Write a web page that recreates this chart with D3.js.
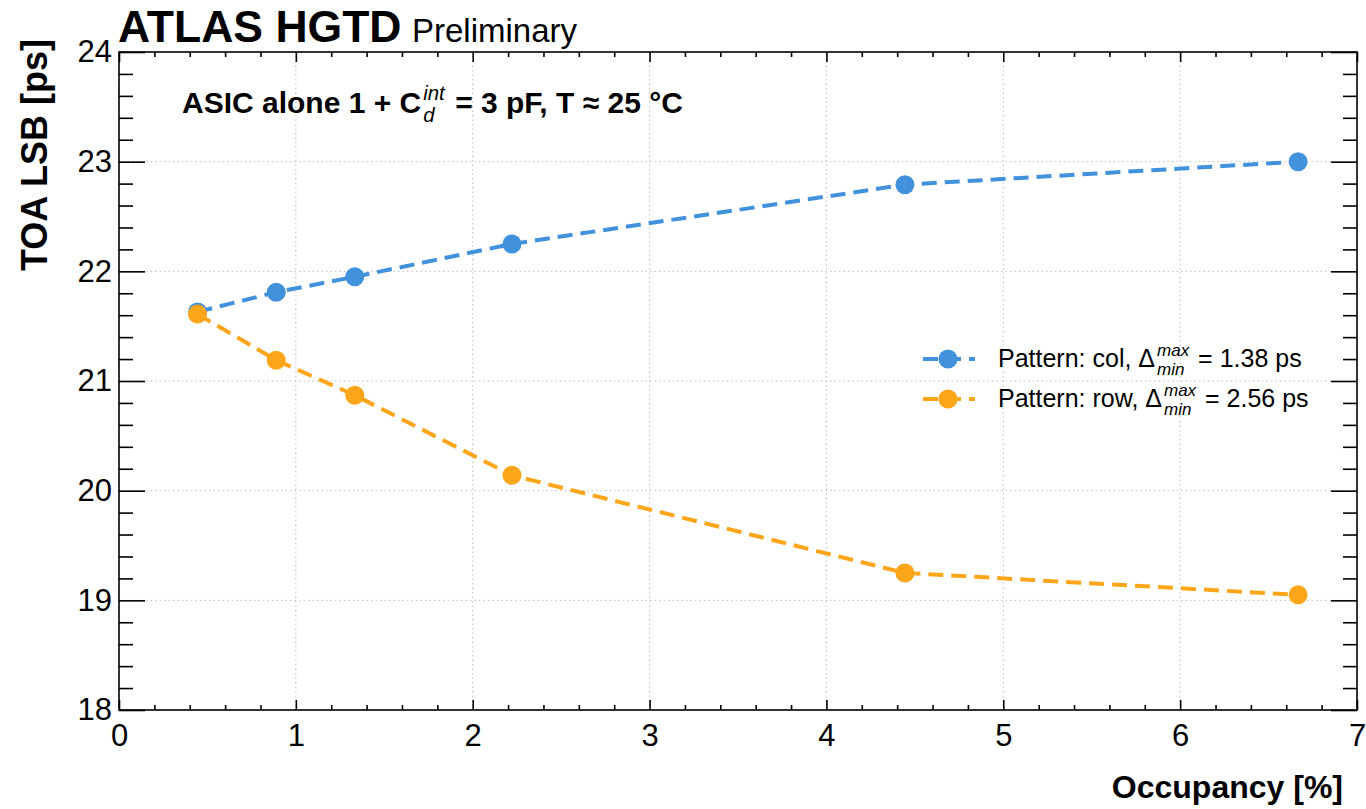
<!DOCTYPE html>
<html><head><meta charset="utf-8">
<script src="https://cdn.jsdelivr.net/npm/d3@7"></script>
<style>
body{margin:0;background:#fff}
svg{display:block}
text{font-family:"Liberation Sans",Arial,Helvetica,sans-serif;fill:#000}
</style>
</head><body>
<svg id="chart" width="1366" height="809"></svg>
<script>
// ---- data ----
const occupancy = [0.444, 0.889, 1.333, 2.222, 4.444, 6.667];
const lsbCol = [21.63, 21.81, 21.95, 22.25, 22.79, 23.00];
const lsbRow = [21.61, 21.19, 20.87, 20.14, 19.25, 19.05];
const seriesNames = ["col", "row"];
const seriesDeltas = ["1.38", "2.56"];
const seriesColors = ["#4191dc", "#ffa519"];
const xTickValues = [0, 1, 2, 3, 4, 5, 6, 7];
const yTickValues = [18, 19, 20, 21, 22, 23, 24];
const xDomain = [0, 7];
const yDomain = [18, 24];

// ---- layout ----
const L = 119, R = 1357, T = 52, B = 710;
const svg = d3.select("#chart");

const x = d3.scaleLinear().domain(xDomain).range([L, R]);
const y = d3.scaleLinear().domain(yDomain).range([B, T]);

const xMinor = d3.range(xDomain[0], xDomain[1] + 1e-9, 0.2).map(v => +v.toFixed(2)).filter(v => !xTickValues.includes(v));
const yMinor = d3.range(yDomain[0], yDomain[1] + 1e-9, 0.2).map(v => +v.toFixed(2)).filter(v => !yTickValues.includes(v));

// grid
const grid = svg.append("g").attr("stroke", "#bdbdbd").attr("stroke-width", 1).attr("stroke-dasharray", "1.5,3");
grid.selectAll("line.gx").data(xTickValues.slice(1, -1)).join("line")
  .attr("x1", d => x(d)).attr("x2", d => x(d)).attr("y1", T).attr("y2", B);
grid.selectAll("line.gy").data(yTickValues.slice(1, -1)).join("line")
  .attr("x1", L).attr("x2", R).attr("y1", d => y(d)).attr("y2", d => y(d));

// series
const series = [lsbCol, lsbRow].map((vals, i) => ({
  name: seriesNames[i], delta: seriesDeltas[i], color: seriesColors[i],
  pts: occupancy.map((o, j) => [o, vals[j]])
}));
const line = d3.line().x(d => x(d[0])).y(d => y(d[1]));
series.forEach(s => {
  svg.append("path").attr("d", line(s.pts)).attr("fill", "none")
    .attr("stroke", s.color).attr("stroke-width", 4).attr("stroke-dasharray", "15,8");
  svg.append("g").selectAll("circle").data(s.pts).join("circle")
    .attr("cx", d => x(d[0])).attr("cy", d => y(d[1])).attr("r", 9.5).attr("fill", s.color);
});

// axes (ticks inward)
function styleAxis(g) {
  g.select(".domain").remove();
  g.selectAll(".tick line").attr("stroke", "#000").attr("stroke-width", 1.6);
  g.selectAll(".tick text").attr("font-size", 31).style("font-family", '"Liberation Sans",Arial,sans-serif');
}
svg.append("g").attr("transform", `translate(0,${B})`)
  .call(d3.axisBottom(x).tickValues(xTickValues).tickSize(-10).tickPadding(14).tickFormat(d3.format("d")))
  .call(styleAxis);
svg.append("g").attr("transform", `translate(0,${B})`)
  .call(d3.axisBottom(x).tickValues(xMinor).tickSize(-5).tickFormat(""))
  .call(styleAxis);
svg.append("g").attr("transform", `translate(0,${T})`)
  .call(d3.axisTop(x).tickValues(xTickValues).tickSize(-10).tickFormat(""))
  .call(styleAxis);
svg.append("g").attr("transform", `translate(0,${T})`)
  .call(d3.axisTop(x).tickValues(xMinor).tickSize(-5).tickFormat(""))
  .call(styleAxis);
svg.append("g").attr("transform", `translate(${L},0)`)
  .call(d3.axisLeft(y).tickValues(yTickValues).tickSize(-26).tickPadding(7).tickFormat(d3.format("d")))
  .call(styleAxis);
svg.append("g").attr("transform", `translate(${L},0)`)
  .call(d3.axisLeft(y).tickValues(yMinor).tickSize(-14).tickFormat(""))
  .call(styleAxis);
svg.append("g").attr("transform", `translate(${R},0)`)
  .call(d3.axisRight(y).tickValues(yTickValues).tickSize(-26).tickFormat(""))
  .call(styleAxis);
svg.append("g").attr("transform", `translate(${R},0)`)
  .call(d3.axisRight(y).tickValues(yMinor).tickSize(-14).tickFormat(""))
  .call(styleAxis);

// frame
svg.append("rect").attr("x", L).attr("y", T).attr("width", R - L).attr("height", B - T)
  .attr("fill", "none").attr("stroke", "#000").attr("stroke-width", 1.6);

// axis titles
svg.append("text").attr("x", 1343).attr("y", 798).attr("text-anchor", "end")
  .attr("font-size", 32).attr("font-weight", "bold").text("Occupancy [%]");
svg.append("text").attr("transform", "translate(47,39) rotate(-90)").attr("text-anchor", "end")
  .attr("font-size", 36).attr("font-weight", "bold").text("TOA LSB [ps]");

// header
svg.append("text").attr("x", 118).attr("y", 42).attr("font-size", 44.5).attr("font-weight", "bold").text("ATLAS HGTD");
svg.append("text").attr("x", 412).attr("y", 42).attr("font-size", 33).text("Preliminary");

// rich text helper: parts are strings or {sup, sub}
function rich(x0, y0, parts, size, weight) {
  const g = svg.append("g");
  let cx = x0;
  parts.forEach(p => {
    if (typeof p === "string") {
      const t = g.append("text").attr("x", cx).attr("y", y0).attr("font-size", size)
        .attr("font-weight", weight).attr("xml:space", "preserve").style("white-space", "pre").text(p);
      cx += t.node().getComputedTextLength();
    } else {
      const ss = size * 0.68;
      let w = 0;
      if (p.sup) {
        const t = g.append("text").attr("x", cx + 2).attr("y", y0 - size * 0.45).attr("font-size", ss)
          .attr("font-style", "italic").text(p.sup);
        w = Math.max(w, t.node().getComputedTextLength());
      }
      if (p.sub) {
        const t = g.append("text").attr("x", cx + 2).attr("y", y0 + size * 0.3).attr("font-size", ss)
          .attr("font-style", "italic").text(p.sub);
        w = Math.max(w, t.node().getComputedTextLength());
      }
      cx += w + 4;
    }
  });
  return g;
}

rich(182, 113, ["ASIC alone 1 + C", {sup: "int", sub: "d"}, " = 3 pF, T \u2248 25 \u00B0C"], 30, "bold");

// legend
const legY = [359, 399];
series.forEach((s, i) => {
  const ly = legY[i];
  svg.append("line").attr("x1", 923).attr("x2", 975).attr("y1", ly).attr("y2", ly)
    .attr("stroke", s.color).attr("stroke-width", 4).attr("stroke-dasharray", "15,8");
  svg.append("circle").attr("cx", 948).attr("cy", ly).attr("r", 9.5).attr("fill", s.color);
  rich(998, ly + 8, [`Pattern: ${s.name}, \u0394`, {sup: "max", sub: "min"}, ` = ${s.delta} ps`], 25, "normal");
});
</script>
</body></html>
